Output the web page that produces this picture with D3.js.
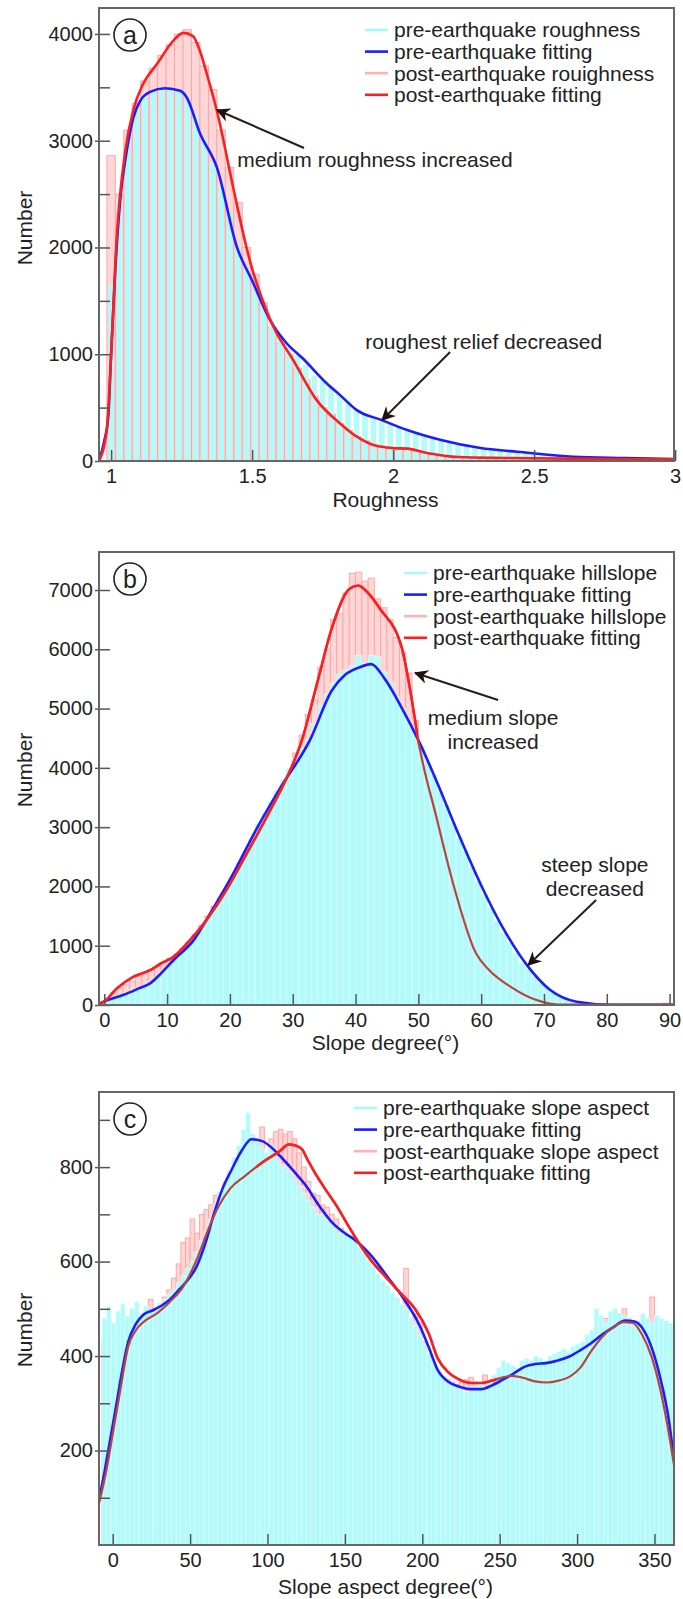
<!DOCTYPE html>
<meta charset="utf-8">
<style>
body { margin: 0; background: #fff; }
.chart text { font-family: "Liberation Sans", Arial, sans-serif; fill: #222; }
.chart .tick text { font-size: 20px; }
.chart .tick line { stroke: #555; stroke-width: 1.5; }
.chart .frame { fill: none; stroke: #666; stroke-width: 2; }
.chart .label { font-size: 21px; }
.chart .arrow { stroke: #2a1c1c; stroke-width: 2; fill: none; }
</style>
<body>
<svg class="chart js-chart"></svg>

<script src="https://cdn.jsdelivr.net/npm/d3@7"></script>
<script type="text/javascript">
"use strict";

// ---- (a) roughness: bins of 0.03 starting at 0.985
var roughBinStart = 0.985, roughBinWidth = 0.03;
var roughPre = [1650, 2450, 3000, 3300, 3420, 3470, 3500, 3490, 3470, 3400,
    3250, 3020, 2800, 2580, 2330, 2020, 1800, 1620, 1470, 1300,
    1180, 1070, 990, 900, 800, 760, 690, 620, 560, 490,
    440, 400, 380, 345, 310, 290, 260, 230, 210, 196,
    178, 160, 150, 130, 118, 108, 100, 92, 87, 80,
    72, 66, 58, 50, 44, 40, 37, 34, 32, 30,
    28, 27, 25, 24, 22, 20, 19];
var roughPost = [2860, 2500, 3100, 3350, 3560, 3680, 3800, 3900, 4000, 4040,
    3920, 3700, 3480, 3100, 2750, 2420, 2000, 1750, 1480, 1250,
    1100, 1000, 870, 760, 610, 500, 440, 350, 290, 230,
    190, 150, 130, 120, 118, 110, 95, 80, 65, 52,
    45, 38, 34, 32, 30, 29, 28, 27, 26, 25,
    24, 23, 22, 22, 21, 20, 20, 19, 18, 18,
    17, 17, 16, 16, 15, 15, 14];
var roughPreFit = [[0.957, 0], [0.975, 180], [0.99, 420], [1.0, 1000], [1.015, 1800], [1.032, 2440],
    [1.055, 2900], [1.079, 3218], [1.103, 3374], [1.14, 3460], [1.191, 3492], [1.245, 3467],
    [1.268, 3405], [1.316, 3063], [1.375, 2750], [1.446, 2003], [1.5, 1690], [1.564, 1318],
    [1.62, 1110], [1.68, 960], [1.765, 726], [1.812, 617], [1.871, 477], [1.96, 383],
    [2.05, 290], [2.17, 196], [2.31, 121], [2.44, 87], [2.64, 40], [2.82, 28], [2.996, 19]];
var roughPostFit = [[0.957, 0], [0.985, 300], [1.0, 1000], [1.02, 2100], [1.05, 2900], [1.08, 3300],
    [1.113, 3530], [1.163, 3720], [1.22, 3935], [1.256, 4010], [1.29, 3980], [1.315, 3840],
    [1.34, 3620], [1.375, 3280], [1.433, 2560], [1.48, 2000], [1.5, 1800], [1.53, 1560],
    [1.575, 1260], [1.646, 944], [1.729, 570], [1.812, 352], [1.87, 230], [1.93, 150],
    [2.0, 121], [2.05, 116], [2.12, 75], [2.23, 37], [2.4, 28], [2.76, 19], [2.996, 15]];
var roughXTicks = [1, 1.5, 2, 2.5, 3];
var roughYTicks = [0, 1000, 2000, 3000, 4000];
var roughYMinor = [500, 1500, 2500, 3500];
var roughLegend = ["pre-earthquake roughness", "pre-earthquake fitting",
    "post-earthquake rouighness", "post-earthquake fitting"];

// ---- (b) slope: bins of 1 degree starting at 0
var slopeBinStart = 0, slopeBinWidth = 1;
var slopePre = [90, 130, 170, 210, 250, 290, 330, 390, 470, 580,
    700, 820, 930, 1040, 1150, 1290, 1460, 1620, 1780, 1960,
    2180, 2400, 2590, 2800, 3060, 3250, 3420, 3620, 3800, 3990,
    4180, 4330, 4480, 4750, 5050, 5250, 5430, 5580, 5650, 5720,
    5900, 5760, 5900, 5880, 5620, 5450, 5200, 5000, 4800, 4560,
    4370, 4100, 3880, 3600, 3380, 3070, 2820, 2600, 2330, 2090,
    1860, 1640, 1420, 1230, 1050, 880, 720, 610, 480, 380,
    290, 220, 160, 110, 75, 50, 35, 22, 15, 10,
    6, 5, 5, 4, 4, 3, 3, 3, 3, 3];
var slopePost = [110, 200, 290, 340, 400, 480, 540, 600, 650, 720,
    790, 860, 950, 1060, 1190, 1340, 1500, 1660, 1800, 1950,
    2100, 2250, 2420, 2620, 2780, 3000, 3200, 3420, 3700, 3980,
    4250, 4550, 4900, 5150, 5700, 6000, 6500, 6600, 6950, 7280,
    7300, 7150, 7200, 6850, 6700, 6500, 6200, 5950, 5600, 4800,
    4300, 3750, 3250, 2800, 2350, 1950, 1600, 1300, 1000, 820,
    680, 580, 480, 390, 310, 240, 180, 130, 90, 60,
    40, 25, 15, 10, 8, 6, 5, 4, 3, 3,
    2, 2, 2, 2, 2, 2, 2, 2, 2, 30];
var slopePreFit = [[-0.84, 20], [0, 60], [3, 168], [5.5, 280], [7.3, 364], [9, 530], [11, 755],
    [14.2, 1090], [17, 1570], [20.2, 2152], [24.4, 3000], [27.9, 3640], [32.8, 4480],
    [36.2, 5300], [38.3, 5565], [40.5, 5690], [42.5, 5750], [44.6, 5509], [47.4, 5005],
    [50.1, 4446], [52.9, 3775], [56.4, 2881], [59.9, 2042], [63.4, 1314], [67.5, 643],
    [71, 252], [75.2, 56], [80.7, 5], [90.7, 5]];
var slopePostFit = [[-0.84, 20], [0, 60], [2, 280], [4.6, 475], [7.3, 587], [9, 700], [11, 810],
    [13.6, 1090], [15.4, 1314], [19.5, 1950], [22.3, 2480], [26.5, 3300], [29, 3820], [31.4, 4446],
    [34, 5476], [36.2, 6347], [39, 7018], [40.4, 7075], [42, 6950], [43.9, 6683],
    [47.4, 6012], [48.8, 5250], [50.1, 4400], [52.9, 3160], [55.7, 1985], [59.2, 867],
    [61.3, 587], [64.7, 307], [69.6, 56], [72.4, 5], [90.7, 5]];
var slopeXTicks = [0, 10, 20, 30, 40, 50, 60, 70, 80, 90];
var slopeYTicks = [0, 1000, 2000, 3000, 4000, 5000, 6000, 7000];
var slopeLegend = ["pre-earthquake hillslope", "pre-earthquake fitting",
    "post-earthquake hillslope", "post-earthquake fitting"];

// ---- (c) slope aspect: bins of 3 degrees starting at -7
var aspectBinStart = -7, aspectBinWidth = 3;
var aspectPre = [480, 505, 470, 495, 510, 485, 500, 515, 490, 505,
    495, 500, 510, 520, 530, 540, 555, 570, 585, 600,
    620, 645, 665, 690, 720, 745, 770, 790, 820, 845,
    880, 915, 870, 855, 840, 830, 845, 820, 805, 800,
    790, 775, 760, 745, 730, 715, 700, 700, 690, 680,
    670, 660, 665, 655, 650, 635, 620, 605, 590, 575,
    560, 550, 535, 525, 510, 500, 480, 465, 445, 425,
    405, 385, 370, 355, 345, 340, 335, 330, 325, 330,
    335, 340, 335, 345, 360, 375, 390, 385, 380, 375,
    390, 395, 390, 400, 395, 390, 400, 405, 410, 415,
    410, 420, 425, 430, 445, 455, 500, 485, 470, 495,
    500, 490, 485, 480, 470, 475, 490, 480, 470, 485,
    480, 475, 470];
var aspectPost = [430, 450, 460, 455, 465, 470, 480, 475, 490, 495,
    520, 500, 510, 525, 540, 565, 595, 640, 650, 690,
    660, 700, 710, 720, 740, 745, 760, 790, 770, 810,
    800, 820, 810, 830, 885, 820, 860, 875, 880, 870,
    875, 860, 830, 800, 770, 745, 740, 720, 715, 700,
    690, 670, 660, 640, 625, 610, 600, 590, 575, 560,
    555, 545, 530, 520, 500, 585, 480, 490, 470, 430,
    400, 380, 365, 355, 350, 345, 340, 345, 350, 355,
    345, 335, 360, 310, 350, 355, 360, 360, 350, 345,
    360, 345, 340, 335, 345, 340, 335, 345, 340, 350,
    355, 360, 375, 400, 430, 445, 460, 470, 480, 455,
    470, 490, 500, 480, 470, 460, 450, 440, 525, 470,
    460, 440, 450];
var aspectPreFit = [[-8.85, 95], [-5, 160], [-2.3, 210], [2, 290], [6.2, 370], [10, 430], [15, 468],
    [20, 488], [26, 497], [31.7, 507], [37, 520], [43, 541], [49, 563], [54.3, 590],
    [60, 640], [65.6, 703], [71, 755], [76.9, 795], [83, 833], [89.6, 859], [96.7, 855],
    [102, 843], [108, 824], [116, 795], [125, 760], [133, 720], [142, 682], [150, 660],
    [156, 647], [162, 630], [167.4, 611], [177, 570], [187, 526], [198.5, 463], [204, 420],
    [210, 370], [217, 345], [224, 335], [231, 330], [238, 330], [245, 338], [252, 350],
    [259, 363], [266, 377], [273, 383], [280, 385], [287, 390], [295, 399], [302, 412],
    [309, 427], [316, 445], [323, 460], [331, 475], [337, 473], [343, 455], [349, 410],
    [354, 350], [359, 270], [362.6, 180]];
var aspectPostFit = [[-8.85, 88], [-4, 160], [0, 235], [5, 330], [10, 420], [15, 455], [21, 475],
    [28.8, 491], [37, 515], [45.8, 548], [55, 610], [62, 670], [68.4, 717], [76, 755],
    [85.4, 781], [96.7, 810], [108, 834], [113.7, 848], [118, 846], [122.2, 838], [126, 815],
    [130.6, 788], [137, 755], [144.8, 717], [152, 677], [158.9, 640], [167, 602], [175.9, 569],
    [186, 533], [195.7, 498], [204, 449], [210, 395], [217, 365], [224, 350], [232, 343],
    [238, 343], [245, 348], [252, 355], [258, 358], [265, 354], [272, 347], [280, 344],
    [288, 348], [295, 356], [302, 375], [309, 410], [316, 440], [323, 460], [330, 472],
    [336, 470], [342, 445], [348, 400], [353, 340], [358, 260], [362.6, 170]];
var aspectXTicks = [0, 50, 100, 150, 200, 250, 300, 350];
var aspectYTicks = [200, 400, 600, 800];
var aspectYMinor = [100, 300, 500, 700, 900];
var aspectLegend = ["pre-earthquake slope aspect", "pre-earthquake fitting",
    "post-earthquake slope aspect", "post-earthquake fitting"];

var colors = {
    preBar: "#b2fbfb", preEdge: "#e4ffff",
    postBar: "#ffd6d6", postEdge: "#ffa2a2",
    preLine: "#1c1cff", postLine: "#ff1e1e", postLineDim: "#b8443e",
    preSwatch: "#a8fafa", postSwatch: "#ffb4b4"
};

var containerWidth = 683,
    containerHeight = 1599,
    frameLeft = 99,
    frameRight = 674;

var svg = d3.select(".js-chart")
    .attr("width", containerWidth)
    .attr("height", containerHeight);

var defs = svg.append("defs");
defs.append("marker")
    .attr("id", "arrowhead")
    .attr("viewBox", "0 0 10 10")
    .attr("refX", 9)
    .attr("refY", 5)
    .attr("markerUnits", "userSpaceOnUse")
    .attr("markerWidth", 20)
    .attr("markerHeight", 14)
    .attr("orient", "auto")
    .append("path")
    .attr("d", "M0,0 L10,5 L0,10 L3,5 z")
    .attr("fill", "#1e1212");

var panels = [
    {
        id: "a", top: 8, bottom: 461,
        xDomain: [0.957, 2.996], yDomain: [0, 4243],
        binStart: roughBinStart, binWidth: roughBinWidth,
        pre: roughPre, post: roughPost, preFit: roughPreFit, postFit: roughPostFit,
        xTicks: roughXTicks, yTicks: roughYTicks, yMinor: roughYMinor,
        preFrac: 0.66, legend: roughLegend, legendPos: [266, 22],
        xTitle: "Roughness", xTitleY: 507, numberY: 228,
        brightRange: null,
        notes: [
            { lines: ["medium roughness increased"], x: 1.447, y: 2820, anchor: "start",
              from: [1.684, 2932], to: [1.376, 3288] },
            { lines: ["roughest relief decreased"], x: 2.321, y: 1115, anchor: "middle",
              from: [2.202, 1021], to: [1.961, 384] }
        ]
    },
    {
        id: "b", top: 552, bottom: 1005,
        xDomain: [-0.84, 90.7], yDomain: [0, 7641],
        binStart: slopeBinStart, binWidth: slopeBinWidth,
        pre: slopePre, post: slopePost, preFit: slopePreFit, postFit: slopePostFit,
        xTicks: slopeXTicks, yTicks: slopeYTicks, yMinor: [],
        preFrac: 1, legend: slopeLegend, legendPos: [305, 21],
        xTitle: "Slope degree(°)", xTitleY: 1050, numberY: 770,
        brightRange: [-1, 50],
        notes: [
            { lines: ["medium slope", "increased"], x: 61.9, y: 4841, anchor: "middle",
              from: [62.7, 5144], to: [49.5, 5600] },
            { lines: ["steep slope", "decreased"], x: 78.1, y: 2361, anchor: "middle",
              from: [78.3, 1771], to: [67.5, 675] }
        ]
    },
    {
        id: "c", top: 1092, bottom: 1545,
        xDomain: [-8.85, 362.6], yDomain: [0, 959],
        binStart: aspectBinStart, binWidth: aspectBinWidth,
        pre: aspectPre, post: aspectPost, preFit: aspectPreFit, postFit: aspectPostFit,
        xTicks: aspectXTicks, yTicks: aspectYTicks, yMinor: aspectYMinor,
        preFrac: 1, legend: aspectLegend, legendPos: [255, 16],
        xTitle: "Slope aspect degree(°)", xTitleY: 1594, numberY: 1330,
        brightRange: [93, 248],
        notes: []
    }
];

function drawPanel(p) {
    var x = d3.scaleLinear().domain(p.xDomain).range([frameLeft, frameRight]);
    var y = d3.scaleLinear().domain(p.yDomain).range([p.bottom, p.top]);
    var g = svg.append("g").attr("class", "panel-" + p.id);

    defs.append("clipPath").attr("id", "clip-" + p.id)
        .append("rect")
        .attr("x", frameLeft).attr("y", p.top)
        .attr("width", frameRight - frameLeft).attr("height", p.bottom - p.top);

    var plot = g.append("g").attr("clip-path", "url(#clip-" + p.id + ")");
    var bw = x(p.binStart + p.binWidth) - x(p.binStart);

    // post-earthquake bars (behind)
    plot.append("g").selectAll("rect")
        .data(p.post)
        .join("rect")
        .attr("x", function(d, i) { return x(p.binStart + i * p.binWidth); })
        .attr("y", function(d) { return y(d); })
        .attr("width", bw)
        .attr("height", function(d) { return y(0) - y(d); })
        .attr("fill", colors.postBar)
        .attr("stroke", colors.postEdge)
        .attr("stroke-width", 0.9);

    // pre-earthquake bars (front)
    plot.append("g").selectAll("rect")
        .data(p.pre)
        .join("rect")
        .attr("x", function(d, i) { return x(p.binStart + i * p.binWidth) + bw * (1 - p.preFrac) / 2; })
        .attr("y", function(d) { return y(d); })
        .attr("width", bw * p.preFrac)
        .attr("height", function(d) { return y(0) - y(d); })
        .attr("fill", colors.preBar)
        .attr("stroke", colors.preEdge)
        .attr("stroke-width", p.preFrac < 1 ? 0 : 0.6);

    var line = d3.line()
        .x(function(d) { return x(d[0]); })
        .y(function(d) { return y(d[1]); })
        .curve(d3.curveMonotoneX);

    plot.append("path")
        .attr("d", line(p.preFit))
        .attr("fill", "none")
        .attr("stroke", colors.preLine)
        .attr("stroke-width", 2.6);

    if (p.brightRange) {
        defs.append("clipPath").attr("id", "bright-" + p.id)
            .append("rect")
            .attr("x", x(p.brightRange[0])).attr("y", p.top)
            .attr("width", x(p.brightRange[1]) - x(p.brightRange[0]))
            .attr("height", p.bottom - p.top);
        plot.append("path")
            .attr("d", line(p.postFit))
            .attr("fill", "none")
            .attr("stroke", colors.postLineDim)
            .attr("stroke-width", 2.2);
        plot.append("path")
            .attr("d", line(p.postFit))
            .attr("clip-path", "url(#bright-" + p.id + ")")
            .attr("fill", "none")
            .attr("stroke", colors.postLine)
            .attr("stroke-width", 2.6);
    } else {
        plot.append("path")
            .attr("d", line(p.postFit))
            .attr("fill", "none")
            .attr("stroke", colors.postLine)
            .attr("stroke-width", 2.6);
    }

    // axes: ticks point inward
    var yAxis = g.append("g")
        .attr("transform", "translate(" + frameLeft + ",0)")
        .call(d3.axisLeft(y).tickValues(p.yTicks).tickSize(-11).tickSizeOuter(0).tickPadding(6)
            .tickFormat(d3.format("d")));
    yAxis.selectAll(".tick line").attr("x1", -4);
    yAxis.select(".domain").remove();

    g.append("g")
        .attr("transform", "translate(" + frameLeft + ",0)")
        .call(d3.axisLeft(y).tickValues(p.yMinor).tickSize(-11).tickSizeOuter(0).tickFormat(""))
        .select(".domain").remove();

    var xAxis = g.append("g")
        .attr("transform", "translate(0," + p.bottom + ")")
        .call(d3.axisBottom(x).tickValues(p.xTicks).tickSize(-11).tickSizeOuter(0).tickPadding(8)
            .tickFormat(d3.format("")));
    xAxis.select(".domain").remove();

    g.append("rect")
        .attr("class", "frame")
        .attr("x", frameLeft).attr("y", p.top)
        .attr("width", frameRight - frameLeft).attr("height", p.bottom - p.top);

    // panel letter
    g.append("circle")
        .attr("cx", frameLeft + 31).attr("cy", p.top + 27).attr("r", 16)
        .attr("fill", "#fff").attr("stroke", "#222").attr("stroke-width", 1.6);
    g.append("text")
        .attr("x", frameLeft + 31).attr("y", p.top + 27)
        .attr("dy", "0.36em")
        .attr("text-anchor", "middle")
        .style("font-size", "25px")
        .text(p.id);

    // legend
    var legendColors = [colors.preSwatch, colors.preLine, colors.postSwatch, colors.postLine];
    var lg = g.append("g")
        .attr("transform", "translate(" + (frameLeft + p.legendPos[0]) + "," + (p.top + p.legendPos[1]) + ")");
    p.legend.forEach(function(name, i) {
        lg.append("line")
            .attr("x1", 0).attr("x2", 23)
            .attr("y1", i * 21.6).attr("y2", i * 21.6)
            .attr("stroke", legendColors[i])
            .attr("stroke-width", 2.6);
        lg.append("text")
            .attr("class", "label")
            .attr("x", 29).attr("y", i * 21.6)
            .attr("dy", "0.35em")
            .text(name);
    });

    // annotations
    p.notes.forEach(function(n) {
        n.lines.forEach(function(t, i) {
            g.append("text")
                .attr("class", "label")
                .attr("x", x(n.x)).attr("y", y(n.y) + i * 24)
                .attr("dy", "0.35em")
                .attr("text-anchor", n.anchor)
                .text(t);
        });
        g.append("line")
            .attr("class", "arrow")
            .attr("x1", x(n.from[0])).attr("y1", y(n.from[1]))
            .attr("x2", x(n.to[0])).attr("y2", y(n.to[1]))
            .attr("marker-end", "url(#arrowhead)");
    });

    // axis titles
    g.append("text")
        .attr("class", "label")
        .attr("x", (frameLeft + frameRight) / 2 - 1)
        .attr("y", p.xTitleY)
        .attr("text-anchor", "middle")
        .text(p.xTitle);
    g.append("text")
        .attr("class", "label")
        .attr("transform", "translate(25," + p.numberY + ") rotate(-90)")
        .attr("dy", "0.35em")
        .attr("text-anchor", "middle")
        .text("Number");
}

panels.forEach(drawPanel);

</script>
</body>
